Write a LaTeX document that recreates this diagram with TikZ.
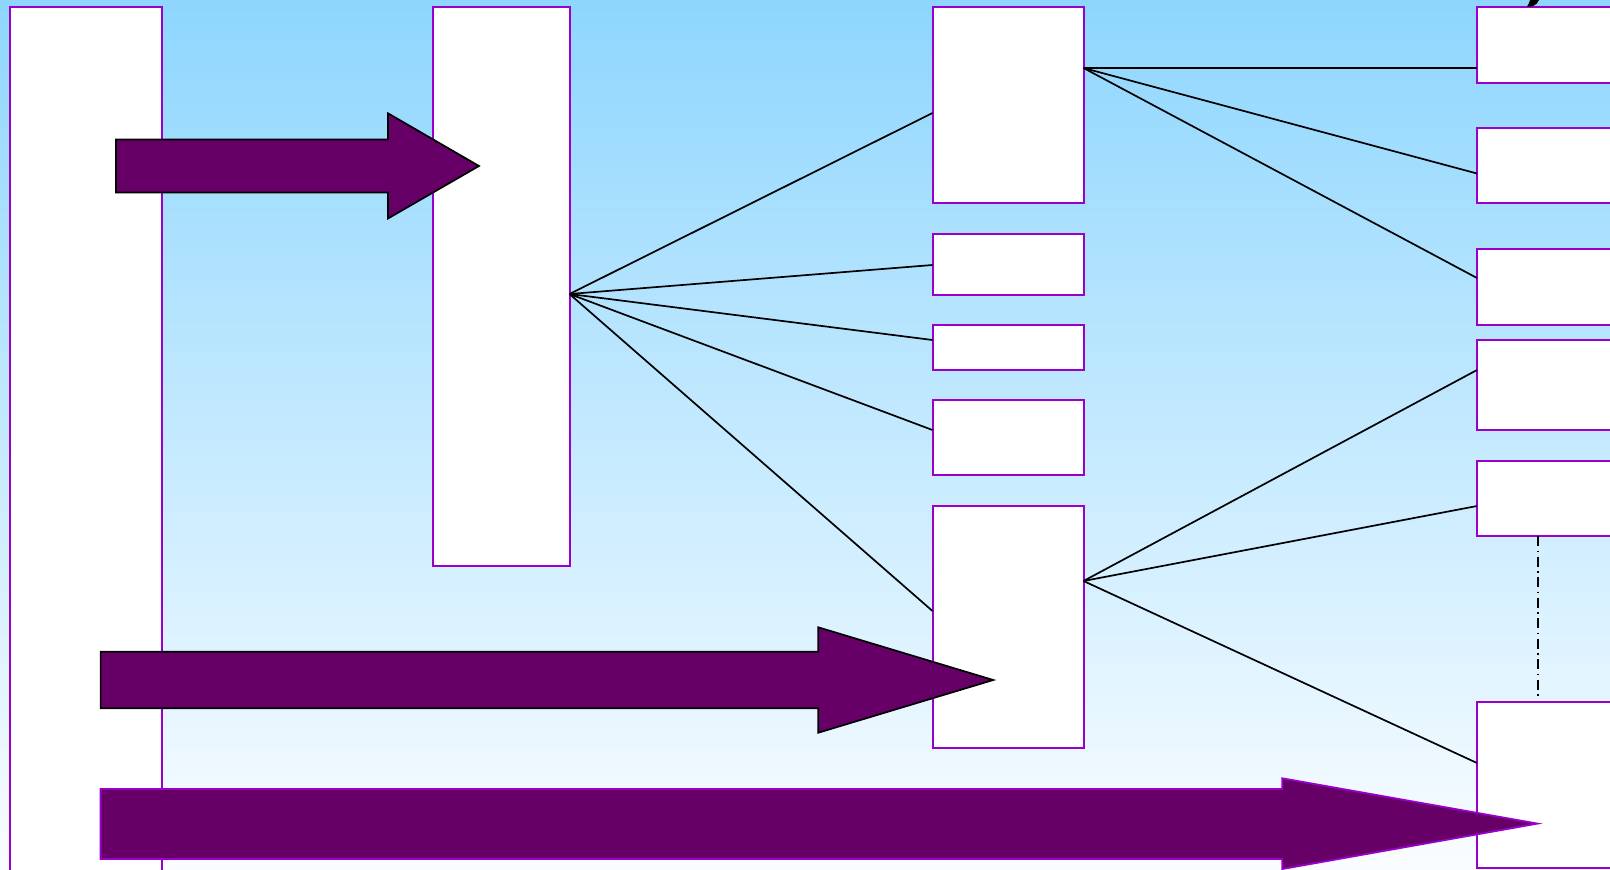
\documentclass[tikz,border=0pt]{standalone}
\usetikzlibrary{calc}
\definecolor{bgtop}{RGB}{142,214,254}
\definecolor{bgbot}{RGB}{250,253,255}
\definecolor{boxline}{RGB}{153,0,204}
\definecolor{arrowfill}{RGB}{102,0,102}
\begin{document}
\begin{tikzpicture}[x=1pt,y=-1pt,
  panel/.style={draw=boxline,line width=2pt,fill=white,rectangle,anchor=north west,inner sep=0pt,outer sep=0pt},
  link/.style={draw=black,line width=1.7pt},
  fatarrow/.style={fill=arrowfill,draw=black,line width=1.7pt,line join=miter},
  fatarrowp/.style={fill=arrowfill,draw=boxline,line width=1.8pt,line join=miter}]
\useasboundingbox (0,0) rectangle (1610,870);
\clip (0,0) rectangle (1610,870);
\shade[top color=bgtop,bottom color=bgbot] (0,0) rectangle (1610,870);
% boxes
\node[panel,minimum width=151.5pt,minimum height=880pt] (L) at (10,7) {};
\node[panel,minimum width=136.5pt,minimum height=559pt] (B) at (433,7) {};
\node[panel,minimum width=151pt,minimum height=196pt] (Ca) at (932.5,7) {};
\node[panel,minimum width=151pt,minimum height=61pt] (Cb) at (932.5,234) {};
\node[panel,minimum width=151pt,minimum height=45pt] (Cc) at (932.5,325) {};
\node[panel,minimum width=151pt,minimum height=75pt] (Cd) at (932.5,400) {};
\node[panel,minimum width=151pt,minimum height=242pt] (Ce) at (932.5,506) {};
\node[panel,minimum width=160pt,minimum height=76pt] (Da) at (1477,7) {};
\node[panel,minimum width=160pt,minimum height=75pt] (Db) at (1477,128) {};
\node[panel,minimum width=160pt,minimum height=76pt] (Dc) at (1477,248.5) {};
\node[panel,minimum width=160pt,minimum height=90pt] (Dd) at (1477,340) {};
\node[panel,minimum width=160pt,minimum height=75pt] (De) at (1477,461) {};
\node[panel,minimum width=160pt,minimum height=166pt] (Df) at (1477,702) {};
% hubs
\coordinate (hB) at ($(B.north east)+(0,287)$);
\coordinate (hA) at ($(Ca.north east)+(0,61)$);
\coordinate (hE) at ($(Ce.north east)+(0,75)$);
% connectors
\draw[link] (hB) -- ($(Ca.north west)+(0,106)$);
\draw[link] (hB) -- ($(Cb.north west)+(0,31)$);
\draw[link] (hB) -- ($(Cc.north west)+(0,15)$);
\draw[link] (hB) -- ($(Cd.north west)+(0,30)$);
\draw[link] (hB) -- ($(Ce.north west)+(0,105)$);
\draw[link] (hA) -- ($(Da.north west)+(0,61)$);
\draw[link] (hA) -- ($(Db.north west)+(0,45.5)$);
\draw[link] (hA) -- ($(Dc.north west)+(0,29.5)$);
\draw[link] (hE) -- ($(Dd.north west)+(0,30)$);
\draw[link] (hE) -- ($(De.north west)+(0,45)$);
\draw[link] (hE) -- ($(Df.north west)+(0,61)$);
\draw[link,line width=2pt,dash pattern=on 10pt off 4.5pt on 1.5pt off 4.5pt] ($(De.south west)+(60.5,0)$) -- ($(Df.north west)+(60.5,-6)$);
% arrows
\draw[fatarrow] (116,139.5) -- (388,139.5) -- (388,113.3) -- (479,166) -- (388,218.5) -- (388,192.5) -- (116,192.5) -- cycle;
\draw[fatarrow] (100.6,651.7) -- (818.3,651.7) -- (818.3,627.3) -- (993.3,680) -- (818.3,732.7) -- (818.3,708.3) -- (100.6,708.3) -- cycle;
\draw[fatarrowp] (100.6,789) -- (1282.3,789) -- (1282.3,778.3) -- (1537.5,823.6) -- (1282.3,869) -- (1282.3,859) -- (100.6,859) -- cycle;
% cut-off glyph at top
\fill[black] (1527,6.5) .. controls (1530,7.5) and (1537,6) .. (1539,0) -- (1530,0) .. controls (1530,3) and (1528,4) .. (1527,6.5) -- cycle;
\end{tikzpicture}
\end{document}
